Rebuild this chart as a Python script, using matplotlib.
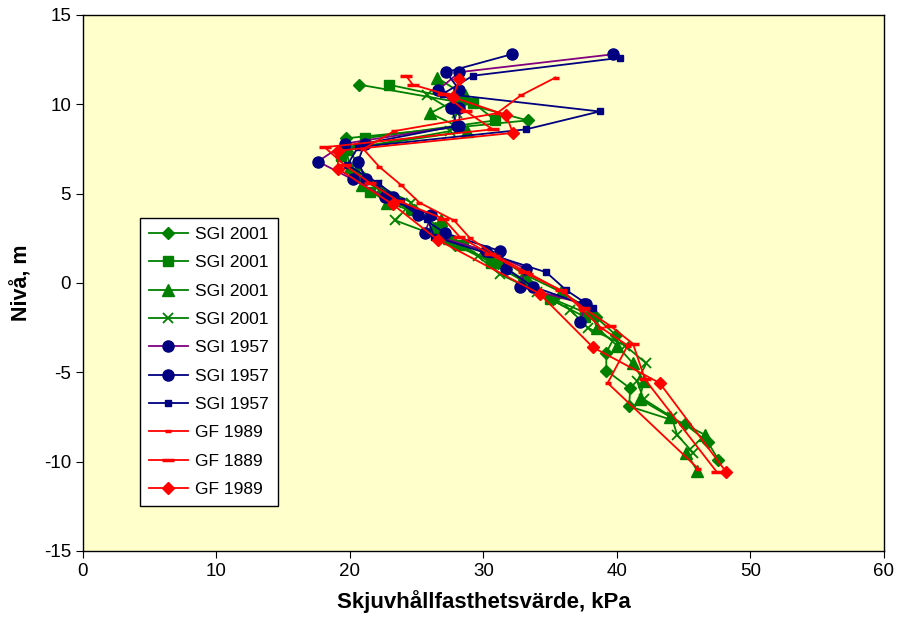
import matplotlib.pyplot as plt

plt.rcParams['font.family'] = ['Liberation Sans', 'DejaVu Sans']
plt.rcParams['axes.unicode_minus'] = False

# SGI 2001, diamonds
sgi01_d_y = [11.1, 10.1, 9.1, 8.1, 7.1, 6.1, 5.1, 4.1, 3.1, 2.1, 1.1, 0.1, -0.9, -1.9,
             -2.9, -3.9, -4.9, -5.9, -6.9, -7.9, -8.9, -9.9]
sgi01_d_x = [20.7, 28.3, 33.3, 19.7, 19.3, 20.4, 22.4, 24.8, 26.4, 27.9, 31.1, 33.2, 35.2, 38.4,
             39.9, 39.2, 39.2, 41.0, 40.9, 45.1, 46.8, 47.6]

# SGI 2001, squares
sgi01_s_y = [11.1, 10.1, 9.1, 8.1, 7.1, 6.1, 5.1, 4.1, 3.1, 2.1, 1.1, 0.1, -0.9, -1.9]
sgi01_s_x = [22.9, 29.2, 30.9, 21.1, 19.3, 20.3, 21.5, 24.6, 26.8, 28.5, 30.6, 33.0, 35.0, 37.6]

# SGI 2001, triangles
sgi01_t_y = [11.5, 10.5, 9.5, 8.5, 7.5, 6.5, 5.5, 4.5, 3.5, 2.5, 1.5, 0.5, -0.5, -1.5,
             -2.5, -3.5, -4.5, -5.5, -6.5, -7.5, -8.5, -9.5, -10.5]
sgi01_t_x = [26.5, 28.6, 26.0, 28.8, 19.7, 20.0, 20.9, 22.8, 26.8, 27.4, 31.0, 33.0, 35.8, 38.0,
             38.5, 40.0, 41.2, 42.0, 41.7, 44.0, 46.6, 45.2, 46.0]

# SGI 2001, crosses
sgi01_x_y = [10.5, 9.5, 8.5, 7.5, 6.5, 5.5, 4.5, 3.5, 2.5, 1.5, 0.5, -0.5, -1.5,
             -2.5, -3.5, -4.5, -5.5, -6.5, -7.5, -8.5, -9.5]
sgi01_x_x = [25.8, 28.0, 27.5, 20.0, 20.6, 22.0, 24.6, 23.4, 27.0, 29.6, 31.2, 34.0, 36.5,
             37.8, 40.6, 42.2, 41.5, 42.0, 44.1, 44.5, 45.7]

# SGI 1957, circles (purple line)
sgi57_a_y = [12.8, 11.8, 10.8, 9.8, 8.8, 7.8, 6.8, 5.8, 4.8, 3.8, 2.8, 1.8, 0.8, -0.2, -1.2, -2.2]
sgi57_a_x = [39.7, 28.2, 26.6, 28.2, 28.2, 19.6, 17.6, 20.2, 22.6, 26.1, 25.6, 30.2, 33.2, 32.7, 37.7, 37.2]

# SGI 1957, circles (navy line)
sgi57_b_y = [12.8, 11.8, 10.8, 9.8, 8.8, 7.8, 6.8, 5.8, 4.8, 3.8, 2.8, 1.8, 0.8, -0.2, -1.2]
sgi57_b_x = [32.1, 27.2, 28.2, 27.6, 28.0, 21.1, 20.6, 21.2, 23.2, 25.1, 27.1, 31.2, 31.7, 33.7, 37.5]

# SGI 1957, small squares
sgi57_c_y = [12.6, 11.6, 10.6, 9.6, 8.6, 7.6, 6.6, 5.6, 4.6, 3.6, 2.6, 1.6, 0.6, -0.4, -1.4]
sgi57_c_x = [40.2, 29.2, 27.0, 38.7, 33.2, 20.6, 19.8, 22.1, 23.8, 25.8, 26.3, 30.5, 34.7, 36.2, 38.2]

# GF 1989, small ticks
gf89_a_y = [11.5, 10.5, 9.5, 8.5, 7.5, 6.5, 5.5, 4.5, 3.5, 2.5, 1.5, 0.5, -0.5, -1.5,
            -2.5, -3.5, -5.6, -10.4]
gf89_a_x = [35.4, 32.8, 31.0, 23.3, 21.0, 22.2, 23.8, 25.2, 27.8, 29.0, 31.0, 33.5, 36.0, 37.4,
            38.8, 40.8, 39.3, 46.1]

# GF 1889, bars
gf88_y = [11.6, 11.1, 10.6, 9.6, 8.6, 7.6, 6.6, 5.6, 4.6, 3.6, 2.6, 1.6, 0.6, -0.4, -1.4,
          -2.4, -3.4, -5.4, -10.6]
gf88_x = [24.2, 24.7, 27.0, 28.7, 30.7, 18.1, 19.6, 21.5, 23.6, 27.0, 28.2, 30.5, 33.0, 35.8, 37.5,
          39.5, 41.2, 42.1, 47.5]

# GF 1989, diamonds
gf89_d_y = [11.4, 10.4, 9.4, 8.4, 7.4, 6.4, 4.4, 2.4, -0.6, -3.6, -5.6, -10.6]
gf89_d_x = [28.2, 27.7, 31.7, 32.2, 19.1, 19.1, 23.2, 26.6, 34.2, 38.2, 43.2, 48.2]

green = '#008000'
navy = '#000080'
purple = '#800080'
red = '#FF0000'

fig = plt.figure(figsize=(8.99, 6.3), dpi=100)
ax = fig.add_axes([0.0923, 0.1254, 0.891, 0.8508])
ax.set_facecolor('#FFFFCC')

lw = 1.3
ax.plot(sgi01_d_x, sgi01_d_y, color=green, lw=lw, marker='D', ms=6, label='SGI 2001')
ax.plot(sgi01_s_x, sgi01_s_y, color=green, lw=lw, marker='s', ms=7, label='SGI 2001')
ax.plot(sgi01_t_x, sgi01_t_y, color=green, lw=lw, marker='^', ms=8, label='SGI 2001')
ax.plot(sgi01_x_x, sgi01_x_y, color=green, lw=lw, marker='x', ms=7, mew=1.3, label='SGI 2001')
ax.plot(sgi57_a_x, sgi57_a_y, color=purple, lw=lw, marker='o', ms=8, mfc=navy, mec=navy, label='SGI 1957')
ax.plot(sgi57_b_x, sgi57_b_y, color=navy, lw=lw, marker='o', ms=8, label='SGI 1957')
ax.plot(sgi57_c_x, sgi57_c_y, color=navy, lw=lw, marker='s', ms=5, label='SGI 1957')
ax.plot(gf89_a_x, gf89_a_y, color=red, lw=lw, marker='_', ms=5, mew=2.5, label='GF 1989')
ax.plot(gf88_x, gf88_y, color=red, lw=lw, marker='_', ms=9, mew=2.5, label='GF 1889')
ax.plot(gf89_d_x, gf89_d_y, color=red, lw=lw, marker='D', ms=6, label='GF 1989')

ax.set_xlim(0, 60)
ax.set_ylim(-15, 15)
ax.set_xticks(range(0, 61, 10))
ax.set_yticks(range(-15, 16, 5))
ax.tick_params(direction='out', length=5, labelsize=13.5, colors='black')
for s in ax.spines.values():
    s.set_color('black')
    s.set_linewidth(1)

ax.set_xlabel('Skjuvhållfasthetsvärde, kPa', fontsize=16, fontweight='bold', labelpad=7)
ax.set_ylabel('Nivå, m', fontsize=15.5, fontweight='bold', labelpad=8)

leg = ax.legend(loc='upper left', bbox_to_anchor=(0.071, 0.621), borderaxespad=0,
                fontsize=12.5, fancybox=False, edgecolor='black', framealpha=1,
                handlelength=2.3, labelspacing=0.76, handletextpad=0.4, borderpad=0.5)
leg.get_frame().set_linewidth(1)

fig.savefig('out.png', dpi=100)
